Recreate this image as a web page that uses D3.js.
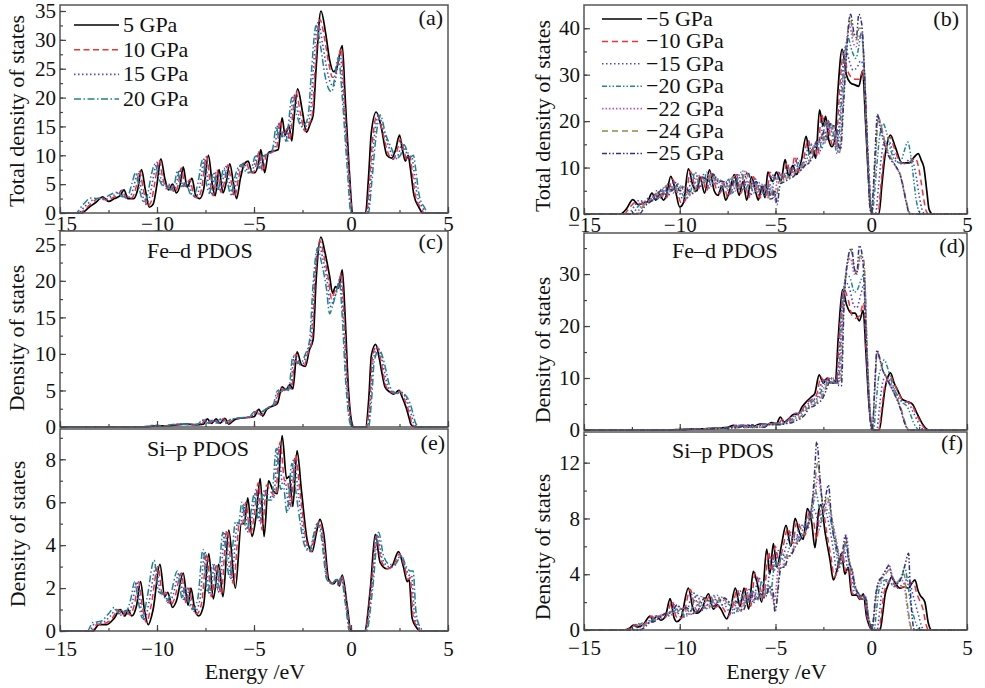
<!DOCTYPE html>
<html>
<head>
<meta charset="utf-8">
<script src="https://cdn.jsdelivr.net/npm/d3@7"></script>
<style>
body { margin: 0; background: #fff; }
svg text { font-family: "Liberation Serif", "Times New Roman", serif; fill: #111; }
</style>
</head>
<body>
<script>
var w = 985;
var h = 688;

// legend labels
var seriesLeft = ["5 GPa", "10 GPa", "15 GPa", "20 GPa"];
var seriesRight = ["\u22125 GPa", "\u221210 GPa", "\u221215 GPa", "\u221220 GPa", "\u221222 GPa", "\u221224 GPa", "\u221225 GPa"];

// tick values
var energyTicks = [-15, -10, -5, 0, 5];
var ticksA = [0, 5, 10, 15, 20, 25, 30, 35];
var ticksB = [0, 10, 20, 30, 40];
var ticksC = [0, 5, 10, 15, 20, 25];
var ticksD = [0, 10, 20, 30];
var ticksE = [0, 2, 4, 6, 8];
var ticksF = [0, 4, 8, 12];

// ---- (a) total DOS, compression: [energy eV, states]
var totP5 = [[-15,0],[-13.9,0],[-13.5,1],[-13.1,2],[-12.8,2.8],[-12.5,2],[-12.2,2.5],[-11.9,3],[-11.7,4],[-11.5,2.5],[-11.2,2.5],[-11.0,4],[-10.8,7.5],[-10.6,4],[-10.4,1],[-10.2,1.5],[-10.0,5],[-9.8,9.4],[-9.6,6],[-9.4,4],[-9.2,5],[-9.0,3.5],[-8.8,5],[-8.65,8],[-8.45,4.5],[-8.2,6],[-8.0,3],[-7.8,2.5],[-7.6,4],[-7.35,10],[-7.15,5],[-7.0,3],[-6.8,7.5],[-6.6,3.5],[-6.45,5],[-6.25,8.5],[-6.05,5],[-5.9,2.5],[-5.7,6],[-5.5,8.5],[-5.3,9],[-5.1,7],[-4.95,7],[-4.75,9],[-4.65,11],[-4.45,7],[-4.25,10.5],[-4.0,10.7],[-3.75,11],[-3.55,16.5],[-3.4,13.5],[-3.2,15],[-3.05,12.5],[-2.95,16],[-2.75,21.5],[-2.5,17.5],[-2.3,14],[-2.1,15.5],[-1.95,17],[-1.8,25],[-1.55,35],[-1.3,31],[-1.1,26.5],[-0.9,24.5],[-0.75,25],[-0.45,29],[-0.3,20],[-0.1,8],[0.1,0],[0.75,0],[0.9,6],[1.05,14],[1.3,17.5],[1.55,15],[1.85,10],[2.1,9.5],[2.3,11],[2.5,13.5],[2.65,11],[2.8,9],[2.95,10],[3.05,8],[3.25,3],[3.5,1],[3.7,0],[5,0]];
var totP10 = [[-15,0],[-14.0,0],[-13.6,1],[-13.2,2.2],[-12.9,2.7],[-12.6,2.2],[-12.3,2.6],[-12.0,3.2],[-11.8,4],[-11.6,2.6],[-11.3,2.6],[-11.1,4.2],[-10.9,7.2],[-10.7,4],[-10.5,1.2],[-10.3,2],[-10.1,5.5],[-9.9,9.2],[-9.7,6],[-9.5,4.2],[-9.3,5],[-9.1,3.6],[-8.9,5],[-8.75,7.8],[-8.55,4.6],[-8.3,5.8],[-8.1,3],[-7.9,2.6],[-7.7,4.2],[-7.45,9.8],[-7.25,5],[-7.1,3],[-6.9,7.4],[-6.7,3.6],[-6.55,5],[-6.35,8.3],[-6.15,5],[-6.0,2.8],[-5.8,6],[-5.6,8.4],[-5.4,8.8],[-5.2,7],[-5.05,7],[-4.85,9],[-4.75,10.6],[-4.55,7.2],[-4.35,10.3],[-4.1,10.5],[-3.85,11],[-3.65,16],[-3.5,13.2],[-3.3,14.6],[-3.15,12.6],[-3.05,15.5],[-2.85,21],[-2.6,17.2],[-2.38,14.2],[-2.15,15.5],[-2.0,17],[-1.85,25],[-1.6,33.5],[-1.35,30],[-1.15,26],[-0.95,23.5],[-0.8,24],[-0.5,28.5],[-0.35,20],[-0.12,8],[0.08,0],[0.8,0],[0.95,5.5],[1.12,13],[1.35,17],[1.6,14.5],[1.9,10.5],[2.15,9.3],[2.35,10.5],[2.55,12.8],[2.72,11],[2.88,9.2],[3.03,9.8],[3.12,8],[3.32,3],[3.58,1],[3.78,0],[5,0]];
var totP15 = [[-15,0],[-14.1,0],[-13.7,1.2],[-13.3,2.3],[-13.0,2.6],[-12.7,2.3],[-12.4,2.8],[-12.1,3.3],[-11.9,3.8],[-11.7,2.7],[-11.4,2.8],[-11.2,4.5],[-11.0,7],[-10.8,4],[-10.6,1.5],[-10.4,2.5],[-10.2,6],[-10.0,8.8],[-9.8,6],[-9.6,4.5],[-9.4,5],[-9.2,3.8],[-9.0,5],[-8.85,7.5],[-8.65,4.6],[-8.4,5.5],[-8.2,3.2],[-8.0,2.8],[-7.8,4.5],[-7.55,9.5],[-7.35,5],[-7.2,3.2],[-7.0,7.2],[-6.8,3.8],[-6.65,5],[-6.45,8],[-6.25,5],[-6.1,3],[-5.9,6],[-5.7,8.2],[-5.5,8.6],[-5.3,7],[-5.15,7],[-4.95,8.8],[-4.85,10.2],[-4.65,7.5],[-4.45,10],[-4.2,10.3],[-3.95,11],[-3.75,15.5],[-3.6,13],[-3.4,14.2],[-3.25,12.5],[-3.15,15],[-2.95,20.5],[-2.7,17],[-2.45,14.5],[-2.25,15.5],[-2.1,17],[-1.95,24.5],[-1.7,33],[-1.45,29],[-1.25,25],[-1.05,22.5],[-0.9,22],[-0.55,27.5],[-0.4,20],[-0.15,8],[0.05,0],[0.85,0],[1.0,5],[1.18,12.5],[1.42,17],[1.7,14],[2.0,11],[2.25,9.2],[2.45,10.2],[2.65,12.2],[2.82,10.8],[2.98,9.5],[3.13,9.8],[3.22,8],[3.42,3],[3.68,1],[3.88,0],[5,0]];
var totP20 = [[-15,0],[-14.2,0],[-13.8,1.5],[-13.4,2.6],[-13.1,2.5],[-12.8,2.5],[-12.5,3],[-12.2,3.5],[-12.0,3.6],[-11.8,2.8],[-11.5,3],[-11.3,5],[-11.1,7],[-10.9,4],[-10.7,2],[-10.5,3],[-10.3,6.5],[-10.1,8.5],[-9.9,6],[-9.7,4.8],[-9.5,5],[-9.3,4],[-9.1,5],[-8.95,7.3],[-8.75,4.6],[-8.5,5.3],[-8.3,3.4],[-8.1,3],[-7.9,5],[-7.65,9.2],[-7.45,5],[-7.3,3.4],[-7.1,7],[-6.9,4],[-6.75,5],[-6.55,7.8],[-6.35,5],[-6.2,3.2],[-6.0,6],[-5.8,8],[-5.6,8.4],[-5.4,7],[-5.25,7],[-5.05,8.6],[-4.95,9.8],[-4.75,7.8],[-4.55,9.8],[-4.3,10.2],[-4.05,11],[-3.85,15],[-3.7,12.8],[-3.5,14],[-3.35,12.4],[-3.25,14.6],[-3.05,20],[-2.8,17],[-2.55,15],[-2.35,15.5],[-2.2,17],[-2.05,24],[-1.8,32.5],[-1.55,28.5],[-1.35,24],[-1.15,21.5],[-1.0,21],[-0.65,27],[-0.45,20],[-0.2,8],[0.0,0],[0.9,0],[1.05,4.5],[1.25,12],[1.5,17],[1.8,13.5],[2.05,11.5],[2.35,9.5],[2.55,10],[2.75,11.8],[2.92,10.5],[3.1,9.8],[3.22,10],[3.32,8],[3.52,3],[3.78,1],[3.98,0],[5,0]];

// ---- (c) Fe-d PDOS, compression
var feP5 = [[-15,0],[-10.5,0],[-10.0,0.2],[-9.5,0.1],[-9.0,0.3],[-8.5,0.4],[-8.0,0.3],[-7.6,0.4],[-7.4,1.1],[-7.2,0.5],[-6.95,1.1],[-6.75,0.5],[-6.5,1.2],[-6.3,0.4],[-6.0,1.0],[-5.7,1.2],[-5.3,1.3],[-5.0,1.4],[-4.75,2.4],[-4.55,1.5],[-4.35,2.4],[-4.1,2.8],[-3.8,3.2],[-3.55,5.5],[-3.35,5.1],[-3.15,5.8],[-3.0,5.2],[-2.78,10.3],[-2.55,8.5],[-2.35,8.3],[-2.15,10.5],[-1.95,12],[-1.8,20],[-1.55,26],[-1.35,24],[-1.1,20.6],[-0.95,18.3],[-0.8,19.2],[-0.65,19],[-0.45,21.5],[-0.3,15],[-0.15,6],[0.05,0.5],[0.15,0],[0.75,0],[0.92,4],[1.05,9.8],[1.27,11.3],[1.45,9.5],[1.6,7.3],[1.75,5.5],[2.0,4.8],[2.2,4.5],[2.47,5.0],[2.65,4.0],[2.85,2.6],[3.0,1.2],[3.1,0.3],[3.3,0],[5,0]];
var feP10 = [[-15,0],[-10.6,0],[-10.1,0.2],[-9.6,0.1],[-9.1,0.3],[-8.6,0.4],[-8.1,0.3],[-7.7,0.4],[-7.48,1.05],[-7.28,0.5],[-7.03,1.05],[-6.83,0.5],[-6.58,1.15],[-6.38,0.45],[-6.08,1.0],[-5.78,1.2],[-5.38,1.3],[-5.08,1.4],[-4.83,2.3],[-4.63,1.6],[-4.43,2.3],[-4.18,2.8],[-3.88,3.2],[-3.63,5.3],[-3.43,5.0],[-3.23,5.6],[-3.08,5.2],[-2.85,10],[-2.62,8.5],[-2.42,8.4],[-2.2,10.3],[-2.0,12],[-1.85,20],[-1.6,25.5],[-1.4,23.5],[-1.15,20],[-1.0,17.5],[-0.85,18.5],[-0.7,18.8],[-0.5,21],[-0.35,15],[-0.18,6],[0.02,0.5],[0.12,0],[0.8,0],[0.97,4],[1.1,9.5],[1.32,11.1],[1.5,9.6],[1.65,7.5],[1.8,5.6],[2.05,4.8],[2.25,4.6],[2.52,4.9],[2.7,4.1],[2.9,2.8],[3.05,1.4],[3.15,0.4],[3.35,0],[5,0]];
var feP15 = [[-15,0],[-10.7,0],[-10.2,0.2],[-9.7,0.1],[-9.2,0.3],[-8.7,0.4],[-8.2,0.3],[-7.8,0.4],[-7.56,1.0],[-7.36,0.5],[-7.1,1.0],[-6.9,0.5],[-6.66,1.1],[-6.46,0.5],[-6.16,1.0],[-5.86,1.2],[-5.46,1.3],[-5.16,1.4],[-4.9,2.2],[-4.7,1.7],[-4.5,2.2],[-4.25,2.7],[-3.95,3.1],[-3.7,5.1],[-3.5,4.9],[-3.3,5.4],[-3.15,5.1],[-2.92,9.8],[-2.7,8.6],[-2.5,8.6],[-2.27,10.2],[-2.06,12],[-1.9,19.5],[-1.65,25],[-1.45,23],[-1.2,19.5],[-1.05,16.5],[-0.9,17.5],[-0.75,18.4],[-0.55,20.5],[-0.4,15],[-0.22,6],[0.0,0.5],[0.1,0],[0.85,0],[1.02,4],[1.15,9.2],[1.38,10.9],[1.56,9.6],[1.72,7.6],[1.87,5.8],[2.12,4.8],[2.32,4.6],[2.58,4.8],[2.78,4.2],[2.97,3.0],[3.12,1.6],[3.23,0.5],[3.42,0],[5,0]];
var feP20 = [[-15,0],[-10.8,0],[-10.3,0.2],[-9.8,0.1],[-9.3,0.3],[-8.8,0.4],[-8.3,0.3],[-7.9,0.4],[-7.64,1.0],[-7.44,0.5],[-7.18,1.0],[-6.98,0.5],[-6.74,1.1],[-6.54,0.5],[-6.24,1.0],[-5.94,1.2],[-5.54,1.3],[-5.24,1.4],[-4.98,2.1],[-4.78,1.8],[-4.58,2.1],[-4.32,2.6],[-4.02,3.0],[-3.78,5.0],[-3.58,4.8],[-3.38,5.3],[-3.22,5.0],[-3.0,9.6],[-2.78,8.7],[-2.58,8.8],[-2.35,10],[-2.13,12],[-1.97,19],[-1.72,24.5],[-1.52,22.5],[-1.27,19],[-1.1,15.5],[-0.96,16.5],[-0.8,18],[-0.6,20],[-0.45,15],[-0.27,6],[-0.05,0.5],[0.05,0],[0.9,0],[1.07,4],[1.2,9],[1.45,10.6],[1.63,9.6],[1.8,7.8],[1.95,6],[2.2,4.8],[2.4,4.6],[2.65,4.7],[2.85,4.2],[3.05,3.2],[3.2,1.8],[3.32,0.6],[3.52,0],[5,0]];

// ---- (e) Si-p PDOS, compression
var siP5 = [[-15,0],[-13.3,0],[-13.0,0.3],[-12.6,0.3],[-12.2,0.6],[-11.9,1.0],[-11.65,0.7],[-11.5,1.0],[-11.3,0.7],[-11.05,1.2],[-10.85,2.3],[-10.65,1.0],[-10.45,0.3],[-10.2,1.0],[-9.85,3.1],[-9.6,1.6],[-9.45,1.8],[-9.2,1.1],[-9.0,1.4],[-8.65,2.7],[-8.4,1.2],[-8.25,2.0],[-8.05,1.0],[-7.85,0.7],[-7.6,1.2],[-7.33,3.6],[-7.1,1.5],[-6.82,3.1],[-6.6,1.6],[-6.3,4.7],[-5.96,2.0],[-5.65,5.0],[-5.5,5.0],[-5.32,6.2],[-5.1,4.4],[-4.9,5.3],[-4.68,7.1],[-4.48,4.4],[-4.25,7.0],[-4.05,6.6],[-3.8,6.4],[-3.55,9.1],[-3.32,7.1],[-3.18,7.2],[-3.0,5.8],[-2.78,8.4],[-2.55,6.5],[-2.25,4.2],[-2.0,3.7],[-1.8,4.5],[-1.6,5.2],[-1.4,4.5],[-1.15,2.4],[-0.9,2.2],[-0.7,2.4],[-0.6,2.1],[-0.45,2.6],[-0.2,1.2],[0.0,0],[0.7,0],[1.0,2.0],[1.25,4.5],[1.5,3.2],[1.85,2.9],[2.1,3.0],[2.45,3.7],[2.7,3.0],[2.9,2.3],[3.0,2.4],[3.15,0.6],[3.35,0.2],[3.6,0],[5,0]];
var siP10 = [[-15,0],[-13.4,0],[-13.1,0.3],[-12.7,0.35],[-12.3,0.6],[-12.0,1.0],[-11.75,0.7],[-11.6,1.0],[-11.4,0.75],[-11.15,1.3],[-10.95,2.3],[-10.75,1.1],[-10.55,0.4],[-10.3,1.2],[-9.95,3.0],[-9.7,1.6],[-9.55,1.8],[-9.3,1.2],[-9.1,1.5],[-8.75,2.7],[-8.5,1.3],[-8.35,2.0],[-8.15,1.1],[-7.95,0.8],[-7.7,1.3],[-7.43,3.6],[-7.2,1.6],[-6.92,3.1],[-6.7,1.7],[-6.4,4.7],[-6.06,2.2],[-5.75,5.0],[-5.6,5.0],[-5.42,6.0],[-5.2,4.5],[-5.0,5.3],[-4.78,6.9],[-4.58,4.7],[-4.35,6.8],[-4.15,6.5],[-3.9,6.3],[-3.65,8.8],[-3.42,7.0],[-3.28,7.0],[-3.1,5.8],[-2.86,8.2],[-2.62,6.4],[-2.3,4.2],[-2.05,3.7],[-1.85,4.5],[-1.65,5.1],[-1.45,4.5],[-1.18,2.4],[-0.92,2.2],[-0.72,2.4],[-0.62,2.1],[-0.47,2.55],[-0.22,1.2],[-0.02,0],[0.72,0],[1.03,2.0],[1.3,4.4],[1.55,3.3],[1.9,2.9],[2.15,3.0],[2.5,3.6],[2.75,3.0],[2.95,2.4],[3.05,2.5],[3.2,0.7],[3.4,0.2],[3.65,0],[5,0]];
var siP15 = [[-15,0],[-13.5,0],[-13.2,0.35],[-12.8,0.4],[-12.4,0.7],[-12.1,1.0],[-11.85,0.75],[-11.7,1.0],[-11.5,0.8],[-11.25,1.4],[-11.05,2.3],[-10.85,1.2],[-10.65,0.5],[-10.4,1.4],[-10.05,3.0],[-9.8,1.7],[-9.65,1.8],[-9.4,1.3],[-9.2,1.6],[-8.85,2.7],[-8.6,1.4],[-8.45,2.0],[-8.25,1.2],[-8.05,0.9],[-7.8,1.4],[-7.53,3.7],[-7.3,1.7],[-7.02,3.1],[-6.8,1.8],[-6.5,4.6],[-6.16,2.4],[-5.85,5.0],[-5.7,5.0],[-5.52,5.9],[-5.3,4.6],[-5.1,5.3],[-4.88,6.6],[-4.68,5.0],[-4.45,6.6],[-4.25,6.3],[-4.0,6.2],[-3.75,8.6],[-3.52,6.8],[-3.38,6.9],[-3.2,5.7],[-2.95,8.0],[-2.7,6.3],[-2.35,4.1],[-2.1,3.7],[-1.9,4.5],[-1.7,5.0],[-1.5,4.5],[-1.22,2.4],[-0.95,2.2],[-0.75,2.4],[-0.65,2.15],[-0.5,2.5],[-0.25,1.2],[-0.05,0],[0.75,0],[1.07,2.0],[1.35,4.5],[1.6,3.4],[1.95,3.0],[2.2,3.0],[2.55,3.5],[2.8,3.0],[3.0,2.6],[3.12,2.6],[3.27,0.8],[3.47,0.2],[3.72,0],[5,0]];
var siP20 = [[-15,0],[-13.6,0],[-13.3,0.4],[-12.9,0.45],[-12.5,0.8],[-12.2,1.1],[-11.95,0.8],[-11.8,1.0],[-11.6,0.9],[-11.35,1.5],[-11.15,2.3],[-10.95,1.3],[-10.75,0.6],[-10.5,1.6],[-10.15,3.3],[-9.9,1.8],[-9.75,1.8],[-9.5,1.4],[-9.3,1.7],[-8.95,2.8],[-8.7,1.5],[-8.55,2.0],[-8.35,1.3],[-8.15,1.0],[-7.9,1.5],[-7.63,3.8],[-7.4,1.8],[-7.12,3.1],[-6.9,1.9],[-6.6,4.6],[-6.26,2.5],[-5.95,5.1],[-5.8,5.0],[-5.62,6.0],[-5.4,4.7],[-5.2,5.3],[-4.98,6.4],[-4.78,5.2],[-4.55,6.4],[-4.35,6.1],[-4.1,6.1],[-3.85,8.5],[-3.62,6.6],[-3.48,6.7],[-3.3,5.5],[-3.05,7.8],[-2.8,6.2],[-2.4,4.0],[-2.15,3.7],[-1.95,4.4],[-1.75,5.0],[-1.55,4.5],[-1.25,2.4],[-0.98,2.2],[-0.78,2.4],[-0.68,2.15],[-0.52,2.5],[-0.28,1.2],[-0.08,0],[0.8,0],[1.12,2.0],[1.42,4.6],[1.68,3.5],[2.0,3.1],[2.25,3.1],[2.6,3.5],[2.85,3.0],[3.05,2.8],[3.2,2.8],[3.35,0.9],[3.55,0.2],[3.8,0],[5,0]];

// ---- (b) total DOS, tension
var totN5 = [[-15,0],[-13.1,0],[-12.8,1],[-12.45,3.1],[-12.15,2],[-11.9,2.4],[-11.7,2.6],[-11.45,4.5],[-11.25,3],[-11.05,4.2],[-10.85,3],[-10.7,4],[-10.47,8.1],[-10.25,5.5],[-10.0,1.5],[-9.8,2.5],[-9.55,9.7],[-9.3,6],[-9.1,5],[-8.95,8],[-8.7,4.5],[-8.45,9.5],[-8.2,5],[-8.0,4],[-7.8,6],[-7.6,3],[-7.4,5],[-7.15,8.5],[-6.9,4],[-6.7,7],[-6.5,3],[-6.25,8],[-6.05,5],[-5.9,3],[-5.7,6],[-5.55,3.5],[-5.4,9],[-5.15,7],[-4.95,9],[-4.72,7],[-4.5,11.7],[-4.3,8],[-4.1,10.5],[-3.9,8.5],[-3.65,11.5],[-3.4,16.7],[-3.22,13],[-3.05,14],[-2.9,12],[-2.7,22.4],[-2.52,19],[-2.38,21],[-2.22,16],[-2.05,14.5],[-1.9,16],[-1.75,26],[-1.52,35.5],[-1.3,30],[-1.1,28.3],[-0.85,27.8],[-0.65,27.5],[-0.45,30.8],[-0.3,20],[-0.15,8],[0.0,0.5],[0.1,0],[0.4,0],[0.55,6],[0.7,12],[0.85,15.5],[1.0,17],[1.25,14.5],[1.6,11],[2.0,11],[2.25,12.3],[2.45,13],[2.62,11.5],[2.75,10],[2.9,5],[3.02,1],[3.2,0],[5,0]];
var totN10 = [[-15,0],[-12.9,0],[-12.6,1.5],[-12.3,2.5],[-12.0,2.2],[-11.75,3],[-11.5,2.8],[-11.3,4.2],[-11.1,3.2],[-10.9,4.5],[-10.7,3.5],[-10.38,7.5],[-10.15,5],[-9.9,2.2],[-9.7,3],[-9.45,9.2],[-9.2,6],[-9.0,5.5],[-8.85,8],[-8.6,5],[-8.35,9],[-8.1,5.5],[-7.9,4.5],[-7.7,6.5],[-7.5,3.5],[-7.3,5.5],[-7.05,8.5],[-6.8,4.5],[-6.6,7],[-6.4,3.5],[-6.15,8],[-5.95,5],[-5.8,3.5],[-5.6,6.5],[-5.45,4],[-5.3,9],[-5.05,7.5],[-4.85,9],[-4.62,7.5],[-4.4,11],[-4.2,8.5],[-3.98,12.5],[-3.8,9],[-3.55,11.5],[-3.3,16],[-3.12,13.5],[-2.95,14.5],[-2.8,12.5],[-2.6,21.5],[-2.42,19],[-2.28,20.5],[-2.12,16],[-1.95,14.5],[-1.8,17],[-1.65,27],[-1.45,34.5],[-1.25,31],[-1.05,29.5],[-0.8,29],[-0.6,29],[-0.42,31],[-0.28,20],[-0.12,8],[0.02,0.5],[0.12,0],[0.35,0],[0.5,6],[0.65,12],[0.8,15],[0.97,16.5],[1.22,14],[1.5,11.2],[1.85,10.8],[2.1,11.5],[2.3,12],[2.45,10.5],[2.6,7],[2.75,3],[2.88,0.5],[3.02,0],[5,0]];
var totN15 = [[-15,0],[-12.7,0],[-12.4,1.5],[-12.1,3],[-11.85,2.5],[-11.6,3.5],[-11.4,3],[-11.2,5],[-11.0,3.5],[-10.8,5],[-10.6,4],[-10.28,7],[-10.05,5],[-9.8,3],[-9.6,3.5],[-9.35,8.5],[-9.1,6],[-8.9,6],[-8.75,8.5],[-8.5,5.5],[-8.25,8.5],[-8.0,6],[-7.8,5],[-7.6,7],[-7.4,4],[-7.2,6],[-6.95,8.5],[-6.7,5],[-6.5,7],[-6.3,4],[-6.05,7.5],[-5.85,5],[-5.7,4],[-5.5,6.5],[-5.35,4.5],[-5.2,8.5],[-4.95,7.5],[-4.75,9],[-4.52,8],[-4.3,10.5],[-4.1,9],[-3.88,12],[-3.7,9.5],[-3.45,12],[-3.2,15.5],[-3.02,14],[-2.85,15],[-2.7,13],[-2.5,20.5],[-2.32,19],[-2.18,20],[-2.02,16.5],[-1.85,14.5],[-1.7,18],[-1.55,28],[-1.35,36],[-1.15,33],[-0.95,31],[-0.75,31.5],[-0.55,33],[-0.38,31],[-0.25,20],[-0.1,8],[0.03,0.5],[0.12,0],[0.22,0],[0.38,6],[0.52,12],[0.68,15.5],[0.88,16],[1.12,13.5],[1.38,11.2],[1.6,10.8],[1.85,11.2],[2.05,12],[2.2,11],[2.35,8],[2.5,4],[2.65,1],[2.8,0],[5,0]];
var totN20 = [[-15,0],[-12.5,0],[-12.2,1.5],[-11.9,2.8],[-11.6,2.5],[-11.35,4],[-11.15,3.2],[-10.95,5.5],[-10.75,4],[-10.55,5.5],[-10.35,4.5],[-10.1,6.5],[-9.9,4.5],[-9.65,3.5],[-9.45,4.5],[-9.2,9],[-8.95,6.5],[-8.75,6.5],[-8.6,9],[-8.35,6],[-8.1,8],[-7.85,6],[-7.65,5.5],[-7.45,7.5],[-7.25,4.5],[-7.05,6.5],[-6.8,9],[-6.55,5.5],[-6.35,7],[-6.15,4.5],[-5.9,7],[-5.7,5],[-5.55,4],[-5.35,6],[-5.2,4],[-5.05,8],[-4.8,7],[-4.6,8.5],[-4.38,8],[-4.15,10],[-3.95,9.5],[-3.75,11.5],[-3.55,10],[-3.3,12.5],[-3.08,15],[-2.9,14.5],[-2.72,16],[-2.58,14],[-2.4,20],[-2.22,18.5],[-2.08,19.5],[-1.92,15.5],[-1.78,13],[-1.62,20],[-1.45,31],[-1.22,38],[-1.0,35],[-0.8,33.5],[-0.65,36],[-0.52,39],[-0.35,30],[-0.2,15],[-0.05,3],[0.05,0],[0.12,2],[0.28,10],[0.45,17],[0.62,19.5],[0.8,17.5],[1.0,14],[1.25,11.5],[1.5,11],[1.72,13.5],[1.9,15.5],[2.05,13],[2.2,8],[2.35,3],[2.5,0.5],[2.65,0],[5,0]];
var totN22 = [[-15,0],[-12.3,0],[-12.0,1.8],[-11.7,2.5],[-11.45,3],[-11.2,4.5],[-11.0,3.5],[-10.8,6],[-10.6,4.5],[-10.4,6],[-10.2,4.5],[-9.95,6],[-9.75,4.5],[-9.5,4],[-9.3,5],[-9.05,8.5],[-8.8,7],[-8.6,7],[-8.45,9],[-8.2,6.5],[-7.95,7.5],[-7.7,6],[-7.5,5.5],[-7.3,8],[-7.1,5],[-6.9,6.5],[-6.65,9.5],[-6.4,6],[-6.2,7],[-6.0,4.5],[-5.75,6.5],[-5.55,5],[-5.4,3.5],[-5.2,6],[-5.05,3],[-4.9,7.5],[-4.65,7],[-4.45,8],[-4.22,8],[-4.0,9.5],[-3.8,9.5],[-3.6,11],[-3.4,10.5],[-3.15,13],[-2.95,15],[-2.78,15],[-2.6,17],[-2.45,15],[-2.28,19.5],[-2.12,18],[-1.98,19],[-1.82,15],[-1.68,13],[-1.52,22],[-1.35,33],[-1.15,41],[-0.95,37],[-0.8,36],[-0.65,38],[-0.5,39],[-0.35,30],[-0.2,14],[-0.08,2],[0.02,0],[0.1,4],[0.25,14],[0.35,21],[0.5,19],[0.7,15.5],[0.9,13],[1.1,11.5],[1.3,10],[1.5,8.5],[1.65,6],[1.8,3],[1.92,1],[2.05,0],[5,0]];
var totN24 = [[-15,0],[-12.2,0],[-11.9,1.8],[-11.6,2.6],[-11.35,3.2],[-11.1,4.8],[-10.9,3.8],[-10.7,6.2],[-10.5,4.8],[-10.3,6.2],[-10.1,4.8],[-9.85,6],[-9.65,4.8],[-9.4,4.2],[-9.2,5.2],[-8.95,8.2],[-8.7,7.2],[-8.5,7],[-8.35,8.8],[-8.1,6.8],[-7.85,7.2],[-7.6,6.2],[-7.4,5.8],[-7.2,8],[-7.0,5.2],[-6.8,6.5],[-6.55,9.2],[-6.3,6.2],[-6.1,7],[-5.9,4.8],[-5.65,6.3],[-5.45,5],[-5.3,3.2],[-5.12,5.5],[-4.98,2.5],[-4.82,7],[-4.58,7],[-4.38,7.8],[-4.15,8],[-3.92,9.2],[-3.72,9.5],[-3.52,10.8],[-3.32,10.8],[-3.08,13],[-2.88,15.5],[-2.7,15.5],[-2.52,17.5],[-2.38,15.5],[-2.22,19.5],[-2.06,18.5],[-1.92,19],[-1.78,15],[-1.64,13.5],[-1.48,23],[-1.32,34],[-1.12,42.5],[-0.92,38],[-0.78,37.5],[-0.64,40],[-0.5,40],[-0.35,30],[-0.2,14],[-0.08,2],[0.02,0],[0.1,4],[0.25,14],[0.37,21],[0.52,19],[0.72,15.5],[0.92,13],[1.12,11.5],[1.32,10],[1.52,8.5],[1.67,6],[1.82,3],[1.94,1],[2.07,0],[5,0]];
var totN25 = [[-15,0],[-12.1,0],[-11.8,1.8],[-11.5,2.7],[-11.25,3.4],[-11.0,5],[-10.8,4],[-10.6,6.5],[-10.4,5],[-10.2,6.4],[-10.0,5],[-9.75,6],[-9.55,5],[-9.3,4.4],[-9.1,5.4],[-8.85,8],[-8.6,7.4],[-8.4,7],[-8.25,8.6],[-8.0,7],[-7.75,7],[-7.5,6.4],[-7.3,6],[-7.1,8],[-6.9,5.4],[-6.7,6.5],[-6.45,9],[-6.2,6.4],[-6.0,7],[-5.8,5],[-5.55,6.2],[-5.35,5],[-5.2,3],[-5.05,5.2],[-4.92,2],[-4.75,6.5],[-4.5,7],[-4.3,7.5],[-4.08,8],[-3.85,9],[-3.65,9.5],[-3.45,10.5],[-3.25,11],[-3.0,13],[-2.82,16],[-2.62,16],[-2.45,18],[-2.32,16],[-2.16,19.5],[-2.0,19],[-1.86,19],[-1.72,15],[-1.6,14],[-1.44,24],[-1.28,35],[-1.08,43],[-0.9,39],[-0.78,38],[-0.65,43],[-0.5,41],[-0.35,30],[-0.2,14],[-0.08,2],[0.02,0],[0.1,5],[0.22,15],[0.32,21.5],[0.45,19],[0.62,16],[0.85,13],[1.05,11.5],[1.25,10.5],[1.45,9],[1.6,7],[1.75,4],[1.88,1.5],[2.0,0],[5,0]];

// ---- (d) Fe-d PDOS, tension
var feN5 = [[-15,0],[-10.5,0],[-10.0,0.1],[-9.0,0.2],[-8.0,0.4],[-7.5,0.5],[-7.2,0.9],[-7.0,0.5],[-6.8,0.9],[-6.6,0.5],[-6.4,0.9],[-6.2,0.5],[-5.95,1.0],[-5.7,1.2],[-5.45,1.0],[-5.2,1.4],[-4.95,1.2],[-4.75,2.5],[-4.55,1.5],[-4.3,2.2],[-4.05,3],[-3.85,3],[-3.6,4.5],[-3.37,5.5],[-3.15,6.3],[-2.95,7],[-2.72,10.6],[-2.5,9],[-2.3,10],[-2.1,9],[-1.88,9],[-1.72,18],[-1.5,27],[-1.28,24],[-1.05,22.5],[-0.85,22.5],[-0.62,21],[-0.42,23],[-0.28,15],[-0.12,5],[0.05,0.3],[0.12,0],[0.42,0],[0.58,4],[0.72,8],[0.85,10],[1.0,11],[1.2,9],[1.4,7.5],[1.6,6],[1.85,5.5],[2.15,5],[2.35,3.5],[2.55,2],[2.7,1],[2.85,0.3],[3.0,0],[5,0]];
var feN10 = [[-15,0],[-10.4,0],[-9.9,0.1],[-8.9,0.2],[-7.9,0.4],[-7.4,0.5],[-7.1,0.9],[-6.9,0.5],[-6.7,1.0],[-6.5,0.5],[-6.3,0.9],[-6.1,0.5],[-5.85,1.0],[-5.6,1.2],[-5.35,1.0],[-5.1,1.3],[-4.85,1.2],[-4.65,2.0],[-4.45,1.6],[-4.2,2.5],[-3.95,3.2],[-3.75,3.2],[-3.5,4.5],[-3.27,5.5],[-3.05,6],[-2.85,6.8],[-2.63,10.2],[-2.42,9],[-2.22,10],[-2.02,9],[-1.82,9],[-1.66,19],[-1.42,27],[-1.2,25],[-1.0,22],[-0.82,21.5],[-0.6,22],[-0.4,24.5],[-0.26,15],[-0.1,5],[0.05,0.3],[0.12,0],[0.38,0],[0.54,4],[0.68,8],[0.82,9.5],[0.98,10.5],[1.18,9],[1.38,7.5],[1.58,6],[1.82,5.5],[2.1,5],[2.3,3.5],[2.5,2],[2.65,1],[2.8,0.3],[2.95,0],[5,0]];
var feN15 = [[-15,0],[-10.3,0],[-9.8,0.1],[-8.8,0.2],[-7.8,0.4],[-7.3,0.5],[-7.0,0.9],[-6.8,0.5],[-6.6,1.0],[-6.4,0.5],[-6.2,0.9],[-6.0,0.5],[-5.75,1.0],[-5.5,1.2],[-5.25,1.0],[-5.0,1.3],[-4.75,1.3],[-4.55,1.8],[-4.35,1.7],[-4.1,2.6],[-3.85,3.3],[-3.65,3.5],[-3.4,4.6],[-3.17,5.5],[-2.95,6],[-2.75,6.8],[-2.53,9.8],[-2.33,9],[-2.13,10],[-1.93,9],[-1.75,9.5],[-1.6,20],[-1.35,28.5],[-1.12,27],[-0.92,24],[-0.76,23.5],[-0.55,26],[-0.38,28],[-0.24,15],[-0.1,5],[0.03,0.3],[0.1,0],[0.28,0],[0.42,4],[0.56,8.5],[0.7,10],[0.86,10],[1.05,8.8],[1.25,7.5],[1.45,6],[1.7,5.5],[1.98,5],[2.18,3.5],[2.38,2],[2.52,1],[2.66,0.3],[2.8,0],[5,0]];
var feN20 = [[-15,0],[-10.2,0],[-9.7,0.1],[-8.7,0.2],[-7.7,0.4],[-7.2,0.5],[-6.9,0.9],[-6.7,0.5],[-6.5,1.0],[-6.3,0.5],[-6.1,0.9],[-5.9,0.5],[-5.65,1.0],[-5.4,1.2],[-5.15,1.0],[-4.9,1.3],[-4.65,1.3],[-4.45,1.6],[-4.25,1.8],[-4.0,2.5],[-3.75,3.3],[-3.55,3.8],[-3.3,4.6],[-3.07,5.5],[-2.85,6],[-2.65,7],[-2.45,9.6],[-2.25,9],[-2.05,10],[-1.85,9],[-1.7,9.5],[-1.55,21],[-1.3,30],[-1.08,29],[-0.88,26.5],[-0.72,27],[-0.52,29],[-0.36,30],[-0.22,15],[-0.08,5],[0.02,0.3],[0.08,0],[0.12,0],[0.25,5],[0.38,10],[0.52,12],[0.68,13.5],[0.85,12],[1.05,9.5],[1.25,7.5],[1.45,6],[1.65,5.2],[1.88,4.5],[2.05,3],[2.2,1.5],[2.35,0.5],[2.5,0],[5,0]];
var feN22 = [[-15,0],[-10.1,0],[-9.6,0.1],[-8.6,0.2],[-7.6,0.4],[-7.1,0.5],[-6.8,0.9],[-6.6,0.5],[-6.4,1.0],[-6.2,0.5],[-6.0,0.9],[-5.8,0.5],[-5.55,1.0],[-5.3,1.2],[-5.05,1.0],[-4.8,1.2],[-4.55,1.3],[-4.35,1.5],[-4.15,1.9],[-3.9,2.4],[-3.65,3.2],[-3.45,4],[-3.2,4.6],[-2.97,5.4],[-2.75,6],[-2.55,7.2],[-2.35,9.4],[-2.15,9],[-1.95,10],[-1.78,9],[-1.65,9.5],[-1.5,22],[-1.28,31],[-1.08,33],[-0.88,30],[-0.72,31],[-0.55,33],[-0.38,32],[-0.22,16],[-0.08,4],[0.02,0.3],[0.06,0],[0.1,2],[0.2,9],[0.3,15],[0.42,14],[0.6,11.5],[0.8,10],[1.0,8.5],[1.2,7],[1.4,5.5],[1.55,4],[1.7,2],[1.82,0.8],[1.95,0],[5,0]];
var feN24 = [[-15,0],[-10.0,0],[-9.5,0.1],[-8.5,0.2],[-7.5,0.4],[-7.0,0.5],[-6.7,0.9],[-6.5,0.5],[-6.3,1.0],[-6.1,0.5],[-5.9,0.9],[-5.7,0.5],[-5.45,1.0],[-5.2,1.1],[-4.95,1.0],[-4.7,1.1],[-4.45,1.3],[-4.25,1.4],[-4.05,1.9],[-3.8,2.3],[-3.55,3.1],[-3.35,4.1],[-3.1,4.6],[-2.87,5.3],[-2.65,6],[-2.45,7.4],[-2.25,9.3],[-2.05,9],[-1.88,10],[-1.72,9],[-1.6,9],[-1.45,23],[-1.25,32],[-1.05,34.5],[-0.88,31],[-0.74,30],[-0.58,33.5],[-0.4,33],[-0.22,16],[-0.08,4],[0.02,0.3],[0.06,0],[0.1,2],[0.2,9],[0.31,15],[0.44,14],[0.62,11.5],[0.82,10],[1.02,8.5],[1.22,7],[1.42,5.5],[1.57,4],[1.72,2],[1.84,0.8],[1.97,0],[5,0]];
var feN25 = [[-15,0],[-9.9,0],[-9.4,0.1],[-8.4,0.2],[-7.4,0.4],[-6.9,0.5],[-6.6,0.9],[-6.4,0.5],[-6.2,1.0],[-6.0,0.5],[-5.8,0.9],[-5.6,0.5],[-5.35,1.0],[-5.1,1.1],[-4.85,1.0],[-4.6,1.1],[-4.35,1.3],[-4.15,1.4],[-3.95,1.8],[-3.7,2.2],[-3.45,3],[-3.25,4.2],[-3.0,4.6],[-2.78,5.2],[-2.55,6],[-2.37,7.5],[-2.17,9.2],[-1.98,9],[-1.82,10],[-1.68,8.5],[-1.56,8.5],[-1.42,24],[-1.22,33],[-1.03,35],[-0.88,31],[-0.76,30],[-0.62,35.5],[-0.45,33],[-0.25,16],[-0.1,4],[0.0,0.3],[0.05,0],[0.1,2],[0.2,10],[0.3,15.4],[0.42,14],[0.6,11.5],[0.8,10],[1.0,8.5],[1.2,7],[1.38,5.5],[1.53,4],[1.68,2],[1.8,0.8],[1.92,0],[5,0]];

// ---- (f) Si-p PDOS, tension
var siN5 = [[-15,0],[-12.95,0],[-12.6,0.15],[-12.42,0.35],[-12.2,0.2],[-11.9,0.4],[-11.55,1.0],[-11.4,0.7],[-11.2,1.0],[-11.0,0.7],[-10.75,1.0],[-10.5,2.25],[-10.3,0.9],[-10.15,0.6],[-9.95,0.8],[-9.55,3.0],[-9.3,1.5],[-9.1,1.2],[-8.85,1.5],[-8.5,2.6],[-8.25,1.5],[-8.05,1.8],[-7.85,1.5],[-7.55,0.8],[-7.35,1.5],[-7.1,3.0],[-6.85,1.7],[-6.64,3.0],[-6.4,1.5],[-6.16,4.2],[-5.98,3.5],[-5.72,2.0],[-5.46,5.8],[-5.3,4.0],[-5.11,6.2],[-4.93,4.5],[-4.7,6],[-4.45,7.5],[-4.2,6],[-3.98,8],[-3.75,7],[-3.55,6.5],[-3.34,8.7],[-3.11,7.7],[-2.94,5.9],[-2.75,8.5],[-2.62,9.0],[-2.41,7],[-2.15,5],[-1.98,3.6],[-1.75,4.5],[-1.55,5.5],[-1.38,4],[-1.2,4.5],[-1.02,2.5],[-0.76,2.5],[-0.6,2.2],[-0.41,2.6],[-0.25,1.0],[-0.1,0.3],[0.05,0],[0.46,0],[0.6,1.2],[0.72,2.5],[0.9,3.3],[1.07,3.8],[1.28,3.3],[1.5,3.0],[1.75,3.1],[1.94,3.0],[2.1,3.3],[2.28,3.6],[2.45,2.8],[2.55,2.5],[2.8,2.0],[2.98,0.5],[3.15,0],[5,0]];
var siN10 = [[-15,0],[-12.85,0],[-12.5,0.2],[-12.3,0.4],[-12.1,0.3],[-11.8,0.5],[-11.45,1.0],[-11.3,0.8],[-11.1,1.0],[-10.9,0.8],[-10.65,1.1],[-10.4,2.1],[-10.2,1.0],[-10.05,0.8],[-9.85,0.9],[-9.45,2.9],[-9.2,1.6],[-9.0,1.3],[-8.75,1.6],[-8.4,2.5],[-8.15,1.6],[-7.95,1.8],[-7.75,1.6],[-7.45,1.0],[-7.25,1.6],[-7.0,2.9],[-6.75,1.8],[-6.54,3.0],[-6.3,1.7],[-6.06,4.1],[-5.88,3.5],[-5.62,2.3],[-5.36,5.6],[-5.2,4.2],[-5.01,6.0],[-4.83,4.8],[-4.6,6],[-4.35,7.3],[-4.1,6.2],[-3.88,7.8],[-3.65,7.2],[-3.45,6.8],[-3.24,8.5],[-3.01,7.8],[-2.85,6.5],[-2.68,8.5],[-2.55,8.8],[-2.35,7.2],[-2.1,5.2],[-1.93,3.8],[-1.7,4.6],[-1.5,5.5],[-1.33,4.2],[-1.15,4.4],[-0.98,2.6],[-0.72,2.5],[-0.56,2.2],[-0.38,2.5],[-0.22,1.0],[-0.08,0.3],[0.05,0],[0.4,0],[0.54,1.3],[0.66,2.6],[0.84,3.3],[1.02,3.6],[1.22,3.2],[1.44,3.0],[1.7,3.1],[1.88,3.0],[2.04,3.4],[2.2,3.4],[2.38,2.6],[2.5,2.2],[2.7,1.5],[2.86,0.4],[3.0,0],[5,0]];
var siN15 = [[-15,0],[-12.7,0],[-12.35,0.25],[-12.15,0.45],[-11.95,0.35],[-11.65,0.6],[-11.3,1.0],[-11.15,0.9],[-10.95,1.1],[-10.75,0.9],[-10.5,1.2],[-10.25,1.9],[-10.05,1.1],[-9.9,0.9],[-9.7,1.0],[-9.3,2.7],[-9.05,1.7],[-8.85,1.4],[-8.6,1.7],[-8.25,2.5],[-8.0,1.7],[-7.8,1.8],[-7.6,1.7],[-7.3,1.1],[-7.1,1.7],[-6.85,2.8],[-6.6,1.9],[-6.39,2.9],[-6.15,1.9],[-5.91,3.8],[-5.73,3.4],[-5.47,2.5],[-5.21,5.3],[-5.05,4.3],[-4.86,5.7],[-4.68,5],[-4.45,6],[-4.2,7],[-3.95,6.4],[-3.73,7.5],[-3.5,7.5],[-3.3,7.3],[-3.09,8.8],[-2.86,8.2],[-2.7,7.2],[-2.53,8.5],[-2.4,8.5],[-2.2,7.5],[-1.95,5.5],[-1.8,4.2],[-1.58,4.8],[-1.4,5.7],[-1.23,4.4],[-1.07,4.3],[-0.9,2.8],[-0.66,2.5],[-0.5,2.2],[-0.33,2.5],[-0.18,1.0],[-0.05,0.3],[0.05,0],[0.3,0],[0.44,1.4],[0.56,2.8],[0.74,3.4],[0.92,3.6],[1.12,3.2],[1.34,3.0],[1.58,3.2],[1.76,3.4],[1.9,3.8],[2.02,3.4],[2.2,2.4],[2.32,1.8],[2.48,1.0],[2.62,0.3],[2.76,0],[5,0]];
var siN20 = [[-15,0],[-12.5,0],[-12.15,0.3],[-11.95,0.5],[-11.75,0.4],[-11.45,0.7],[-11.1,1.0],[-10.95,1.0],[-10.75,1.2],[-10.55,1.0],[-10.3,1.3],[-10.05,1.7],[-9.85,1.2],[-9.7,1.0],[-9.5,1.1],[-9.1,2.5],[-8.85,1.8],[-8.65,1.5],[-8.4,1.8],[-8.05,2.5],[-7.8,1.8],[-7.6,1.9],[-7.4,1.8],[-7.1,1.2],[-6.9,1.8],[-6.65,2.7],[-6.4,2.0],[-6.19,2.8],[-5.95,2.1],[-5.71,3.5],[-5.53,3.2],[-5.27,2.6],[-5.01,5.0],[-4.85,4.4],[-4.66,5.5],[-4.48,5.2],[-4.25,6],[-4.0,6.8],[-3.78,6.6],[-3.55,7.3],[-3.33,8],[-3.13,8],[-2.93,10],[-2.72,8.8],[-2.58,7.8],[-2.42,8.6],[-2.28,8.6],[-2.08,7.6],[-1.85,5.8],[-1.68,4.5],[-1.48,5.2],[-1.32,6.2],[-1.15,4.6],[-1.0,4.2],[-0.85,3.0],[-0.6,2.5],[-0.45,2.2],[-0.3,2.4],[-0.15,1.0],[-0.03,0.3],[0.05,0],[0.15,0],[0.28,1.5],[0.42,3.0],[0.6,3.5],[0.8,3.6],[1.0,3.3],[1.2,3.2],[1.42,3.4],[1.6,3.8],[1.75,4.5],[1.88,3.6],[2.02,2.2],[2.14,1.4],[2.28,0.7],[2.42,0.2],[2.55,0],[5,0]];
var siN22 = [[-15,0],[-12.3,0],[-11.95,0.3],[-11.75,0.5],[-11.55,0.5],[-11.25,0.8],[-10.9,1.1],[-10.75,1.1],[-10.55,1.3],[-10.35,1.1],[-10.1,1.4],[-9.85,1.6],[-9.65,1.3],[-9.5,1.1],[-9.3,1.2],[-8.9,2.4],[-8.65,1.9],[-8.45,1.6],[-8.2,1.9],[-7.85,2.4],[-7.6,1.9],[-7.4,2.0],[-7.2,1.9],[-6.9,1.3],[-6.7,1.9],[-6.45,2.6],[-6.2,2.1],[-5.99,2.7],[-5.75,2.2],[-5.51,3.3],[-5.33,3.0],[-5.07,2.0],[-4.81,4.8],[-4.65,4.5],[-4.46,5.4],[-4.28,5.3],[-4.05,6],[-3.8,6.7],[-3.58,6.8],[-3.35,7.3],[-3.13,8.6],[-2.95,9.5],[-2.78,11],[-2.6,9.5],[-2.46,8.4],[-2.3,9.2],[-2.16,8.8],[-1.98,7.5],[-1.76,6],[-1.6,4.8],[-1.42,5.6],[-1.3,6.8],[-1.12,4.8],[-0.97,4.2],[-0.82,3.1],[-0.58,2.5],[-0.42,2.2],[-0.28,2.3],[-0.14,0.9],[-0.02,0.3],[0.05,0],[0.1,0.5],[0.22,2.0],[0.36,3.2],[0.55,3.6],[0.75,4.2],[0.92,4.7],[1.12,3.8],[1.32,3.4],[1.52,3.6],[1.7,3.4],[1.82,2.2],[1.92,1.2],[2.02,0.4],[2.12,0],[5,0]];
var siN24 = [[-15,0],[-12.2,0],[-11.85,0.3],[-11.65,0.55],[-11.45,0.55],[-11.15,0.85],[-10.8,1.1],[-10.65,1.15],[-10.45,1.35],[-10.25,1.15],[-10.0,1.45],[-9.75,1.6],[-9.55,1.35],[-9.4,1.15],[-9.2,1.25],[-8.8,2.35],[-8.55,1.95],[-8.35,1.65],[-8.1,1.95],[-7.75,2.35],[-7.5,1.95],[-7.3,2.05],[-7.1,1.95],[-6.8,1.35],[-6.6,1.95],[-6.35,2.55],[-6.1,2.15],[-5.89,2.65],[-5.65,2.25],[-5.41,3.2],[-5.23,2.9],[-5.0,1.6],[-4.75,4.6],[-4.58,4.5],[-4.4,5.3],[-4.22,5.3],[-4.0,6],[-3.75,6.6],[-3.52,6.9],[-3.3,7.5],[-3.1,9],[-2.95,10.5],[-2.8,12],[-2.62,10],[-2.48,8.6],[-2.32,9.6],[-2.18,9],[-2.0,7.5],[-1.78,6],[-1.62,4.9],[-1.44,5.7],[-1.32,6.6],[-1.14,4.9],[-0.98,4.2],[-0.83,3.1],[-0.59,2.5],[-0.43,2.2],[-0.29,2.3],[-0.15,0.9],[-0.03,0.3],[0.04,0],[0.1,0.5],[0.22,2.2],[0.36,3.3],[0.55,3.7],[0.75,4.0],[0.92,4.3],[1.12,3.7],[1.32,3.4],[1.52,3.7],[1.72,4.0],[1.84,2.4],[1.94,1.3],[2.04,0.4],[2.14,0],[5,0]];
var siN25 = [[-15,0],[-12.1,0],[-11.75,0.3],[-11.55,0.6],[-11.35,0.6],[-11.05,0.9],[-10.7,1.2],[-10.55,1.2],[-10.35,1.4],[-10.15,1.8],[-9.9,1.5],[-9.65,1.6],[-9.45,1.4],[-9.3,1.2],[-9.1,1.3],[-8.7,2.3],[-8.45,2.0],[-8.25,1.7],[-8.0,2.0],[-7.65,2.3],[-7.4,2.0],[-7.2,2.1],[-7.0,2.0],[-6.7,1.4],[-6.5,2.0],[-6.25,2.5],[-6.0,2.2],[-5.79,2.6],[-5.55,2.3],[-5.31,3.1],[-5.13,2.8],[-5.03,1.3],[-4.7,4.5],[-4.52,4.5],[-4.35,5.2],[-4.17,5.4],[-3.95,6],[-3.7,6.5],[-3.46,7],[-3.25,7.8],[-3.06,9.5],[-2.95,11.5],[-2.85,13.5],[-2.65,10.5],[-2.5,8.8],[-2.35,9.8],[-2.24,10.4],[-2.05,7.5],[-1.82,6],[-1.65,5.0],[-1.48,5.8],[-1.36,6.8],[-1.18,5.0],[-1.0,4.2],[-0.85,3.1],[-0.61,2.5],[-0.45,2.2],[-0.3,2.3],[-0.16,0.9],[-0.04,0.3],[0.03,0],[0.1,0.6],[0.22,2.4],[0.36,3.4],[0.55,3.8],[0.75,4.3],[0.92,4.6],[1.12,3.6],[1.32,3.3],[1.52,3.6],[1.75,4.6],[1.95,5.5],[2.02,3.5],[2.1,1.5],[2.18,0.4],[2.26,0],[5,0]];

// line styles
var styleLeft = [
  {c: "#000", d: null, w: 1.7},
  {c: "#f03232", d: "6,3.5", w: 1.5},
  {c: "#4646dc", d: "1.5,2.5", w: 1.6},
  {c: "#1f8585", d: "7,2.5,1.5,2.5", w: 1.5}
];
var styleRight = [
  {c: "#000", d: null, w: 1.7},
  {c: "#f03232", d: "6,4", w: 1.5},
  {c: "#4646dc", d: "1.5,2.5", w: 1.6},
  {c: "#1f8a8a", d: "5,2,1.5,2,1.5,2", w: 1.5},
  {c: "#c050c8", d: "1.5,2", w: 1.6},
  {c: "#8c8c40", d: "6,4", w: 1.5},
  {c: "#30308e", d: "5,2,1.5,2,1.5,2", w: 1.5}
];

var panels = [
  {tag: "(a)", x0: 60, x1: 448, y0: 5, y1: 213, ymax: 36.04, ticks: ticksA, minor: 2.5,
   series: [totP5, totP10, totP15, totP20], styles: styleLeft, names: seriesLeft,
   ylab: "Total density of states", ylx: 24, yly: 111, tagX: 443, tagY: 25, xlabels: true, pad: 3,
   legend: {x: 74, y: 25, dy: 24.7, len: 45}},
  {tag: "(c)", x0: 60, x1: 448, y0: 231, y1: 427, ymax: 26.82, ticks: ticksC, minor: 2.5,
   series: [feP5, feP10, feP15, feP20], styles: styleLeft,
   ylab: "Density of states", ylx: 24, yly: 338, tagX: 443, tagY: 249,
   title: "Fe\u2013d PDOS", tx: 147, ty: 258},
  {tag: "(e)", x0: 60, x1: 448, y0: 429, y1: 631, ymax: 9.41, ticks: ticksE, minor: 1,
   series: [siP5, siP10, siP15, siP20], styles: styleLeft,
   ylab: "Density of states", ylx: 25, yly: 534, tagX: 445, tagY: 450,
   title: "Si\u2013p PDOS", tx: 147, ty: 456, xlabels: true, pad: 10, xlab: true},
  {tag: "(b)", x0: 584, x1: 967, y0: 5, y1: 214, ymax: 45, ticks: ticksB, minor: 5,
   series: [totN5, totN10, totN15, totN20, totN22, totN24, totN25], styles: styleRight, names: seriesRight,
   ylab: "Total density of states", ylx: 550, yly: 116, tagX: 959, tagY: 26, xlabels: true, pad: 3,
   legend: {x: 602, y: 19, dy: 22.4, len: 40}},
  {tag: "(d)", x0: 584, x1: 967, y0: 233, y1: 430, ymax: 37.9, ticks: ticksD, minor: 5,
   series: [feN5, feN10, feN15, feN20, feN22, feN24, feN25], styles: styleRight,
   ylab: "Density of states", ylx: 550, yly: 350, tagX: 965, tagY: 253,
   title: "Fe\u2013d PDOS", tx: 672, ty: 258},
  {tag: "(f)", x0: 584, x1: 967, y0: 432, y1: 630, ymax: 14.2, ticks: ticksF, minor: 2,
   series: [siN5, siN10, siN15, siN20, siN22, siN24, siN25], styles: styleRight,
   ylab: "Density of states", ylx: 550, yly: 547, tagX: 963, tagY: 450,
   title: "Si\u2013p PDOS", tx: 672, ty: 458, xlabels: true, pad: 10, xlab: true}
];

var svg = d3.select("body")
  .append("svg")
  .attr("width", w)
  .attr("height", h);

panels.forEach(function(p) {
  var x = d3.scaleLinear().domain([-15, 5]).range([p.x0, p.x1]);
  var y = d3.scaleLinear().domain([0, p.ymax]).range([p.y1, p.y0]);
  var g = svg.append("g");

  var line = d3.line()
    .x(function(d) { return x(d[0]); })
    .y(function(d) { return y(d[1]); })
    .curve(d3.curveMonotoneX);

  p.series.forEach(function(s, i) {
    var st = p.styles[i];
    g.append("path")
      .attr("d", line(s))
      .attr("fill", "none")
      .attr("stroke", st.c)
      .attr("stroke-width", st.w)
      .attr("stroke-dasharray", st.d);
  });

  // frame
  g.append("rect")
    .attr("x", p.x0).attr("y", p.y0)
    .attr("width", p.x1 - p.x0).attr("height", p.y1 - p.y0)
    .attr("fill", "none").attr("stroke", "#555").attr("stroke-width", 1.5);

  // y ticks, pointing inside
  g.append("g").attr("transform", "translate(" + p.x0 + ",0)")
    .call(d3.axisLeft(y).tickValues(d3.range(0, p.ymax, p.minor)).tickSize(-3).tickFormat(""))
    .call(function(a) { a.select(".domain").remove(); });
  var ya = g.append("g").attr("transform", "translate(" + p.x0 + ",0)")
    .call(d3.axisLeft(y).tickValues(p.ticks).tickSize(-6).tickPadding(4).tickFormat(d3.format("d")));
  ya.select(".domain").remove();

  // x ticks
  g.append("g").attr("transform", "translate(0," + p.y1 + ")")
    .call(d3.axisBottom(x).tickValues(d3.range(-15, 5.1, 2.5)).tickSize(-3).tickFormat(""))
    .call(function(a) { a.select(".domain").remove(); });
  var xa = g.append("g").attr("transform", "translate(0," + p.y1 + ")")
    .call(d3.axisBottom(x).tickValues(energyTicks).tickSize(-6).tickPadding(p.pad || 3)
      .tickFormat(p.xlabels ? d3.format("d") : ""));
  xa.select(".domain").remove();

  g.selectAll(".tick line").attr("stroke", "#444").attr("stroke-width", 1.2);
  g.selectAll(".tick text").attr("font-size", "21px")
    .attr("font-family", "Liberation Serif, serif").attr("fill", "#111");

  // labels
  g.append("text")
    .attr("transform", "translate(" + p.ylx + "," + p.yly + ") rotate(-90)")
    .attr("text-anchor", "middle")
    .attr("font-size", "22px")
    .text(p.ylab);

  g.append("text")
    .attr("x", p.tagX).attr("y", p.tagY)
    .attr("text-anchor", "end")
    .attr("font-size", "22px")
    .text(p.tag);

  if (p.title) {
    g.append("text")
      .attr("x", p.tx).attr("y", p.ty)
      .attr("font-size", "22px")
      .text(p.title);
  }

  if (p.xlab) {
    g.append("text")
      .attr("x", (p.x0 + p.x1) / 2 + 1).attr("y", 679)
      .attr("text-anchor", "middle")
      .attr("font-size", "22px")
      .text("Energy /eV");
  }

  if (p.legend) {
    var lg = p.legend;
    p.names.forEach(function(n, i) {
      var st = p.styles[i];
      var ly = lg.y + i * lg.dy;
      g.append("line")
        .attr("x1", lg.x).attr("x2", lg.x + lg.len)
        .attr("y1", ly).attr("y2", ly)
        .attr("stroke", st.c)
        .attr("stroke-width", st.w)
        .attr("stroke-dasharray", st.d);
      g.append("text")
        .attr("x", lg.x + lg.len + 4).attr("y", ly + 7)
        .attr("font-size", "22px")
        .text(n);
    });
  }
});
</script>
</body>
</html>
